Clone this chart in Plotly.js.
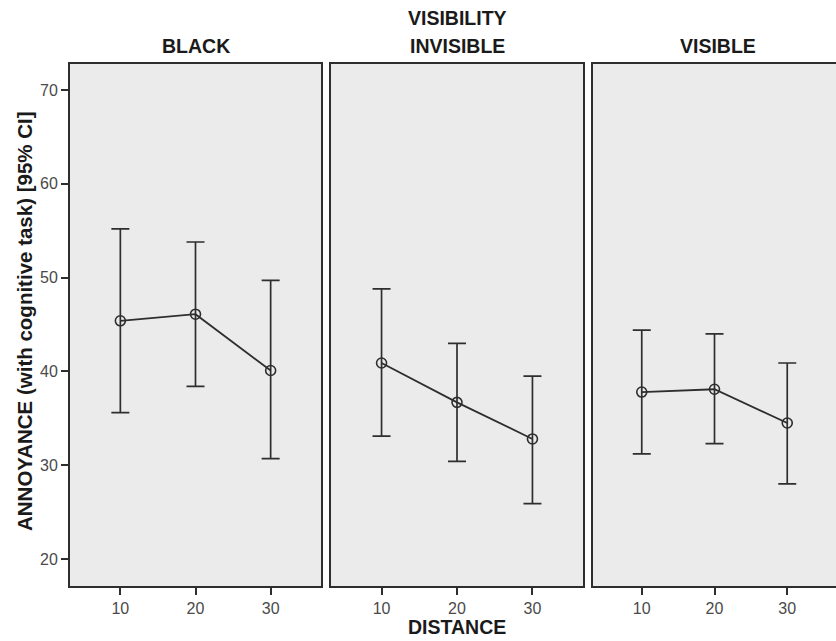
<!DOCTYPE html>
<html>
<head>
<meta charset="utf-8">
<script src="https://cdn.plot.ly/plotly-3.0.1.min.js"></script>
<style>html,body{margin:0;padding:0;background:#fff;}#chart{width:836px;height:641px;}</style>
</head>
<body>
<div id="chart"></div>
<script>
const panels = ["BLACK", "INVISIBLE", "VISIBLE"];
const distance = [10, 20, 30];
const meanBlack = [45.4, 46.1, 40.1];
const upperBlack = [55.2, 53.8, 49.7];
const lowerBlack = [35.6, 38.4, 30.7];
const meanInvisible = [40.9, 36.7, 32.8];
const upperInvisible = [48.8, 43.0, 39.5];
const lowerInvisible = [33.1, 30.4, 25.9];
const meanVisible = [37.8, 38.1, 34.5];
const upperVisible = [44.4, 44.0, 40.9];
const lowerVisible = [31.2, 32.3, 28.0];
const yTicks = [20, 30, 40, 50, 60, 70];
const xTicks = [10, 20, 30];

const series = [
  [meanBlack, upperBlack, lowerBlack],
  [meanInvisible, upperInvisible, lowerInvisible],
  [meanVisible, upperVisible, lowerVisible]
];

const W = 836, H = 641;
const dark = '#2e2e2e';
const font = 'Liberation Sans, Arial, sans-serif';
const xPix = [[70, 321], [331, 583], [593, 838]];
const yDom = [1 - 586 / H, 1 - 64 / H];

const traces = series.map((s, i) => ({
  type: 'scatter', mode: 'lines+markers',
  x: distance, y: s[0],
  xaxis: i === 0 ? 'x' : 'x' + (i + 1),
  yaxis: i === 0 ? 'y' : 'y' + (i + 1),
  line: {color: dark, width: 1.8},
  marker: {symbol: 'circle-open', size: 10, color: dark, line: {width: 1.6, color: dark}},
  error_y: {
    type: 'data', symmetric: false,
    array: s[1].map((u, k) => u - s[0][k]),
    arrayminus: s[0].map((m, k) => m - s[2][k]),
    color: dark, thickness: 1.7, width: 9
  },
  showlegend: false, hoverinfo: 'skip'
}));

const layout = {
  width: W, height: H,
  margin: {l: 0, r: 0, t: 0, b: 0},
  paper_bgcolor: '#ffffff',
  plot_bgcolor: '#ebebeb',
  font: {family: font, color: '#222'},
  annotations: []
};

for (let i = 0; i < 3; i++) {
  const sx = i === 0 ? '' : String(i + 1);
  layout['xaxis' + sx] = {
    domain: [xPix[i][0] / W, Math.min(xPix[i][1] / W, 1)],
    range: [3.3, 36.7],
    anchor: 'y' + sx,
    tickvals: xTicks, ticktext: xTicks.map(String),
    ticks: 'outside', ticklen: 7, tickwidth: 2, tickcolor: dark,
    showline: true, mirror: true, linecolor: dark, linewidth: 2,
    showgrid: false, zeroline: false,
    tickfont: {family: font, size: 16, color: '#4a4a4a'},
    fixedrange: true
  };
  layout['yaxis' + sx] = {
    domain: yDom,
    range: [17.12, 72.78],
    anchor: 'x' + sx,
    tickvals: yTicks, ticktext: i === 0 ? yTicks.map(String) : yTicks.map(() => ''),
    ticks: i === 0 ? 'outside' : '', ticklen: 7, tickwidth: 2, tickcolor: dark,
    showline: true, mirror: true, linecolor: dark, linewidth: 2,
    showgrid: false, zeroline: false,
    tickfont: {family: font, size: 16, color: '#4a4a4a'},
    fixedrange: true
  };
}

const titleFont = {family: font, size: 19.5, color: '#1a1a1a', weight: 'bold'};
const centers = [196, 457, 718];
panels.forEach((p, i) => {
  layout.annotations.push({
    text: '<b>' + p + '</b>', xref: 'paper', yref: 'paper',
    x: centers[i] / W, y: 1 - 46 / H, xanchor: 'center', yanchor: 'middle',
    showarrow: false, font: titleFont
  });
});
layout.annotations.push({
  text: '<b>VISIBILITY</b>', xref: 'paper', yref: 'paper',
  x: 457 / W, y: 1 - 18 / H, xanchor: 'center', yanchor: 'middle',
  showarrow: false, font: titleFont
});
layout.annotations.push({
  text: '<b>DISTANCE</b>', xref: 'paper', yref: 'paper',
  x: 457 / W, y: 1 - 627 / H, xanchor: 'center', yanchor: 'middle',
  showarrow: false, font: titleFont
});
layout.annotations.push({
  text: '<b>ANNOYANCE (with cognitive task) [95% CI]</b>', xref: 'paper', yref: 'paper',
  x: 24 / W, y: 1 - 321 / H, xanchor: 'center', yanchor: 'middle', textangle: -90,
  showarrow: false, font: Object.assign({}, titleFont, {size: 20.5})
});

Plotly.newPlot('chart', traces, layout, {displayModeBar: false, staticPlot: true});
</script>
</body>
</html>
